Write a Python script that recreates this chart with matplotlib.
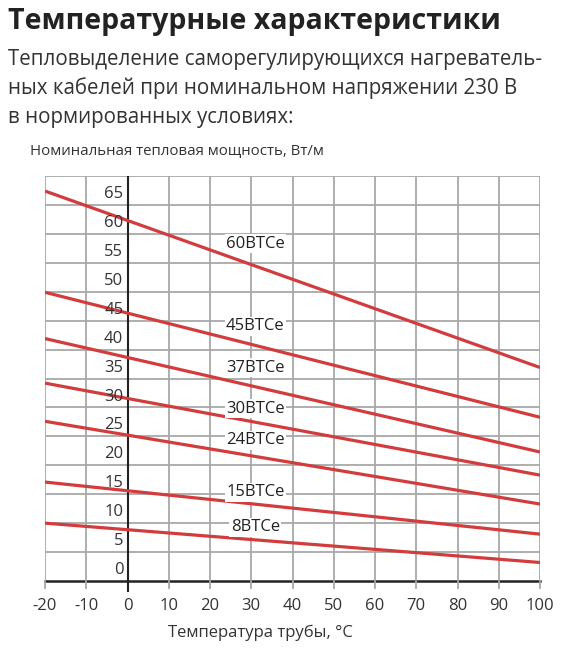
import matplotlib
matplotlib.use("Agg")
import matplotlib.pyplot as plt
import numpy as np

plt.rcParams['font.family'] = ['Open Sans', 'DejaVu Sans']

temps = [-20, 100]
series_names = ["60ВТСе", "45ВТСе", "37ВТСе", "30ВТСе", "24ВТСе", "15ВТСе", "8ВТСе"]
series_values = [
    [67.4, 36.9],
    [49.9, 28.3],
    [41.9, 22.3],
    [34.2, 18.3],
    [27.6, 13.3],
    [17.1, 8.1],
    [10.0, 3.2],
]
label_y = [58.3, 44.0, 36.9, 29.8, 24.3, 15.3, 9.3]
x_ticks = list(range(-20, 101, 10))
y_ticks = list(range(0, 66, 5))

fig = plt.figure(figsize=(5.83, 6.70), dpi=100)
ax = fig.add_axes([45/583, 1-581/670, 495/583, 405/670])
ax.set_xlim(-20, 100)
ax.set_ylim(0, 70)
for s in ax.spines.values():
    s.set_visible(False)
ax.set_xticks([]); ax.set_yticks([])
gc = '#a8a8a8'
for x in x_ticks:
    if x != 0:
        ax.axvline(x, color=gc, lw=1.3, zorder=0)
for y in list(range(5, 71, 5)):
    ax.axhline(y, color=gc, lw=1.3, zorder=0)
ax.axvline(0, color='#222', lw=1.5, zorder=1)
ax.axhline(0, color='#222', lw=1.8, zorder=1, clip_on=False)
ax.plot([0, 0], [0, -1.7], color='#222', lw=1.5, clip_on=False)
for x in x_ticks:
    if x != 0:
        ax.plot([x, x], [0, -1.2], color=gc, lw=1.3, clip_on=False)

for vals in series_values:
    ax.plot(temps, vals, color='#d23c3c', lw=2.3, zorder=2, solid_capstyle='butt')
for name, ly in zip(series_names, label_y):
    ax.text(31, ly, name, ha='center', va='center', fontsize=12, color='#222',
            fontweight='medium',
            bbox=dict(facecolor='white', edgecolor='none', pad=1.0), zorder=3)
for y in y_ticks:
    ax.text(-1, y + 0.5, str(y), ha='right', va='bottom', fontsize=12, color='#333', zorder=3)
for x in x_ticks:
    ax.text(x, -3.0, str(x), ha='center', va='top', fontsize=12, color='#333')

fig.text(8/583, 1-22/670, "Температурные характеристики", fontsize=20.5, fontweight='bold',
         color='#222', va='center')
for i, line in enumerate(["Тепловыделение саморегулирующихся нагреватель-",
                          "ных кабелей при номинальном напряжении 230 В",
                          "в нормированных условиях:"]):
    fig.text(8/583, 1-(60+28.5*i)/670, line, fontsize=14.8, color='#333', va='center')
fig.text(30/583, 1-152/670, "Номинальная тепловая мощность, Вт/м", fontsize=10.8, color='#333', va='center')
fig.text(260/583, 1-633/670, "Температура трубы, °C", fontsize=12, color='#333', va='center', ha='center')

fig.savefig("out.png", dpi=100, facecolor='white')
